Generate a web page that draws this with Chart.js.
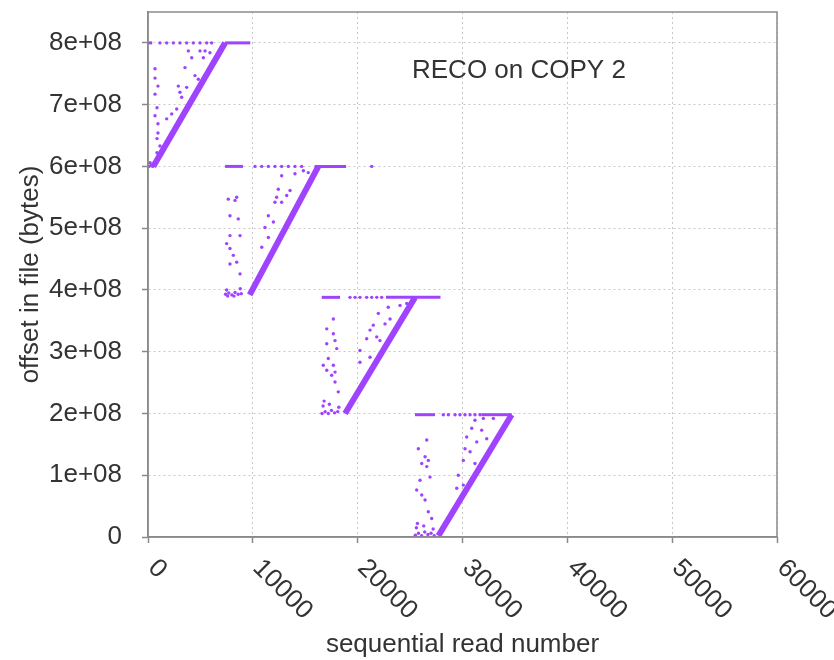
<!DOCTYPE html>
<html>
<head>
<meta charset="utf-8">
<script src="https://cdn.jsdelivr.net/npm/chart.js@4.4.0/dist/chart.umd.min.js"></script>
<style>
    html, body { margin: 0; padding: 0; background: #fff; }
</style>
</head>
<body>
<canvas id="recoChart" width="834" height="660"></canvas>
<script>
// Axis ticks
const xTicks = [0, 10000, 20000, 30000, 40000, 50000, 60000];
const xTickLabels = ['0', '10000', '20000', '30000', '40000', '50000', '60000'];
const yTicks = [0, 1e8, 2e8, 3e8, 4e8, 5e8, 6e8, 7e8, 8e8];
const yTickLabels = ['0', '1e+08', '2e+08', '3e+08', '4e+08', '5e+08', '6e+08', '7e+08', '8e+08'];

// Dense sequential runs (diagonal bands), one per chunk
const diagX0 = [500, 9700, 18800, 27700];
const diagY0 = [6.0e8, 3.92e8, 2.0e8, 0.02e8];
const diagX1 = [7350, 16250, 25470, 34690];
const diagY1 = [8.0e8, 6.0e8, 3.88e8, 1.98e8];

// Dense horizontal runs at the top of each chunk
const bandX0 = [0, 7350, 7350, 15900, 16570, 22700, 25470, 31800];
const bandX1 = [400, 9750, 9060, 18900, 18320, 27900, 27380, 34700];
const bandY = [8.0e8, 8.0e8, 6.0e8, 6.0e8, 3.88e8, 3.88e8, 1.98e8, 1.98e8];

// Scattered reads, chunk 1
const reco1X = [670, 670, 950, 670, 860, 670, 950, 950, 860, 1140, 860,
    3850, 4960, 5440, 5910, 4170, 5280, 3530, 4480, 4800, 3690, 3050, 3210, 2740, 2260, 1780, 2890,
    1140, 1780, 2420, 3050, 3690, 4320, 4960, 5600, 6070,
    100, 300, 200, 450];
const reco1Y = [7.58e8, 7.43e8, 7.30e8, 7.17e8, 6.95e8, 6.82e8, 6.69e8, 6.54e8, 6.45e8, 6.33e8, 6.22e8,
    7.87e8, 7.87e8, 7.87e8, 7.84e8, 7.76e8, 7.76e8, 7.60e8, 7.47e8, 7.41e8, 7.28e8, 7.20e8, 7.12e8, 6.93e8, 6.85e8, 6.77e8, 7.30e8,
    8e8, 8e8, 8e8, 8e8, 8e8, 8e8, 8e8, 8e8, 8e8,
    6.0e8, 6.02e8, 6.06e8, 6.0e8];

// Scattered reads, chunk 2
const reco2X = [7660, 8460, 8300, 7820, 8610, 7820, 8780, 7500, 7820, 8140, 8460, 7820, 8780,
    7400, 7700, 8000, 8300, 8600, 8900, 7500, 8800, 7600, 8200,
    12750, 14020, 14820, 15290, 12430, 13550, 12270, 13230, 12110, 12750, 11480, 11960, 11160, 11480, 10850,
    10210, 10850, 11480, 12110, 12750, 13390, 14020, 14660,
    21340];
const reco2Y = [5.47e8, 5.50e8, 5.45e8, 5.20e8, 5.15e8, 4.88e8, 4.88e8, 4.75e8, 4.67e8, 4.56e8, 4.45e8, 4.42e8, 4.26e8,
    3.93e8, 3.95e8, 3.92e8, 3.96e8, 3.93e8, 3.94e8, 4.00e8, 4.02e8, 3.90e8, 3.90e8,
    5.85e8, 5.88e8, 5.93e8, 5.90e8, 5.63e8, 5.61e8, 5.50e8, 5.53e8, 5.42e8, 5.42e8, 5.20e8, 5.10e8, 5.01e8, 4.85e8, 4.69e8,
    6e8, 6e8, 6e8, 6e8, 6e8, 6e8, 6e8, 6e8,
    6e8];

// Scattered reads, chunk 3
const reco3X = [17680, 17050, 17680, 17840, 17050, 18000, 17200, 17680, 16720, 17050, 17840, 17520, 17840, 18150,
    16600, 16900, 17200, 17500, 17800, 18100, 16700, 17300, 18200, 16800,
    22920, 24040, 24680, 21970, 23090, 21490, 22610, 21180, 21820, 20860, 22130, 20220, 21180, 20220,
    19270, 19750, 20220, 20860, 21340, 21820, 22290];
const reco3Y = [3.53e8, 3.37e8, 3.29e8, 3.18e8, 3.13e8, 3.05e8, 2.89e8, 2.78e8, 2.78e8, 2.70e8, 2.67e8, 2.62e8, 2.51e8, 2.35e8,
    2.0e8, 2.03e8, 2.0e8, 2.05e8, 2.01e8, 2.03e8, 2.12e8, 2.15e8, 2.10e8, 2.20e8,
    3.72e8, 3.75e8, 3.78e8, 3.62e8, 3.53e8, 3.43e8, 3.45e8, 3.35e8, 3.24e8, 3.21e8, 3.18e8, 3.02e8, 2.91e8, 2.83e8,
    3.88e8, 3.88e8, 3.88e8, 3.88e8, 3.88e8, 3.88e8, 3.88e8];

// Scattered reads, chunk 4
const reco4X = [26590, 25790, 26430, 26740, 26110, 26590, 26900, 25950, 25630, 26110, 26430, 26740, 27060,
    25500, 25800, 26100, 26400, 26700, 27000, 27300, 25600, 26300, 27200, 25700,
    31190, 31990, 32940, 30880, 31830, 30400, 31360, 32310, 30240, 30720, 30080, 31190, 29600, 30080, 29450,
    28170, 28650, 29290, 29760, 30240, 30720, 31190, 31670];
const reco4Y = [1.57e8, 1.43e8, 1.30e8, 1.24e8, 1.19e8, 1.14e8, 0.97e8, 0.92e8, 0.76e8, 0.68e8, 0.60e8, 0.41e8, 0.30e8,
    0.03e8, 0.06e8, 0.02e8, 0.08e8, 0.04e8, 0.06e8, 0.02e8, 0.15e8, 0.18e8, 0.13e8, 0.22e8,
    1.89e8, 1.92e8, 1.92e8, 1.76e8, 1.73e8, 1.62e8, 1.54e8, 1.59e8, 1.43e8, 1.38e8, 1.24e8, 1.19e8, 1.00e8, 0.84e8, 0.79e8,
    1.98e8, 1.98e8, 1.98e8, 1.98e8, 1.98e8, 1.98e8, 1.98e8, 1.98e8];

const purple = '#a043ff';
const textColor = '#333';
const fontFamily = '"Liberation Sans", Arial, sans-serif';

function toPoints(xs, ys) {
    return xs.map((x, i) => ({ x: x, y: ys[i] }));
}

const datasets = [];

// Diagonal runs as thick segments
diagX0.forEach((x0, i) => {
    datasets.push({
        data: [{ x: x0, y: diagY0[i] }, { x: diagX1[i], y: diagY1[i] }],
        showLine: true,
        borderColor: purple,
        borderWidth: 6,
        pointRadius: 0
    });
});

// Horizontal runs
bandX0.forEach((x0, i) => {
    datasets.push({
        data: [{ x: x0, y: bandY[i] }, { x: bandX1[i], y: bandY[i] }],
        showLine: true,
        borderColor: purple,
        borderWidth: 3,
        pointRadius: 0
    });
});

// Scattered points
[[reco1X, reco1Y], [reco2X, reco2Y], [reco3X, reco3Y], [reco4X, reco4Y]].forEach(pair => {
    datasets.push({
        data: toPoints(pair[0], pair[1]),
        showLine: false,
        pointRadius: 1.7,
        pointBorderWidth: 0,
        backgroundColor: purple,
        borderColor: purple
    });
});

// Rotated x labels, plot frame and inner title
const decorPlugin = {
    id: 'decor',
    afterDraw(chart) {
        const ctx = chart.ctx;
        const area = chart.chartArea;
        const xScale = chart.scales.x;
        ctx.save();
        ctx.font = '26px ' + fontFamily;
        ctx.fillStyle = textColor;
        ctx.textAlign = 'left';
        ctx.textBaseline = 'middle';
        xTicks.forEach((v, i) => {
            ctx.save();
            ctx.translate(xScale.getPixelForValue(v) + 4, area.bottom + 27);
            ctx.rotate(Math.PI / 4);
            ctx.fillText(xTickLabels[i], 0, 0);
            ctx.restore();
        });

        ctx.strokeStyle = '#8a8a8a';
        ctx.lineWidth = 1.5;
        ctx.strokeRect(area.left, area.top, area.right - area.left, area.bottom - area.top);

        ctx.textBaseline = 'alphabetic';
        ctx.fillText('RECO on COPY 2', area.left + 264, area.top + 66);
        ctx.restore();
    }
};

const gridOpts = {
    color: '#c8c8c8',
    lineWidth: 1,
    drawTicks: true,
    tickLength: 6,
    tickColor: '#8a8a8a',
    tickWidth: 1.5
};

const ctx = document.getElementById('recoChart').getContext('2d');
const recoChart = new Chart(ctx, {
    type: 'scatter',
    data: { datasets: datasets },
    options: {
        responsive: false,
        animation: false,
        layout: {
            padding: { top: 12, right: 57, left: 0, bottom: 0 }
        },
        plugins: {
            legend: { display: false },
            tooltip: { enabled: false }
        },
        scales: {
            x: {
                type: 'linear',
                min: 0,
                max: 60000,
                afterBuildTicks: scale => { scale.ticks = xTicks.map(v => ({ value: v })); },
                afterFit: scale => {
                    scale.height = 123;
                    scale.paddingLeft = 0;
                    scale.paddingRight = 0;
                },
                ticks: { display: false },
                grid: gridOpts,
                border: { display: true, color: '#8a8a8a', width: 1.5, dash: [2, 3] },
                title: {
                    display: true,
                    text: 'sequential read number',
                    color: textColor,
                    font: { family: fontFamily, size: 26 },
                    padding: { top: 4, bottom: 0 }
                }
            },
            y: {
                type: 'linear',
                min: 0,
                max: 8.5e8,
                afterBuildTicks: scale => { scale.ticks = yTicks.map(v => ({ value: v })); },
                afterFit: scale => {
                    scale.width = 148;
                    scale.paddingTop = 0;
                    scale.paddingBottom = 0;
                },
                ticks: {
                    color: textColor,
                    font: { family: fontFamily, size: 26 },
                    padding: 20,
                    callback: (value, index) => yTickLabels[index]
                },
                grid: gridOpts,
                border: { display: true, color: '#8a8a8a', width: 1.5, dash: [2, 3] },
                title: {
                    display: true,
                    text: 'offset in file (bytes)',
                    color: textColor,
                    font: { family: fontFamily, size: 26 },
                    padding: { top: 15, bottom: 4 }
                }
            }
        }
    },
    plugins: [decorPlugin]
});
</script>
</body>
</html>
